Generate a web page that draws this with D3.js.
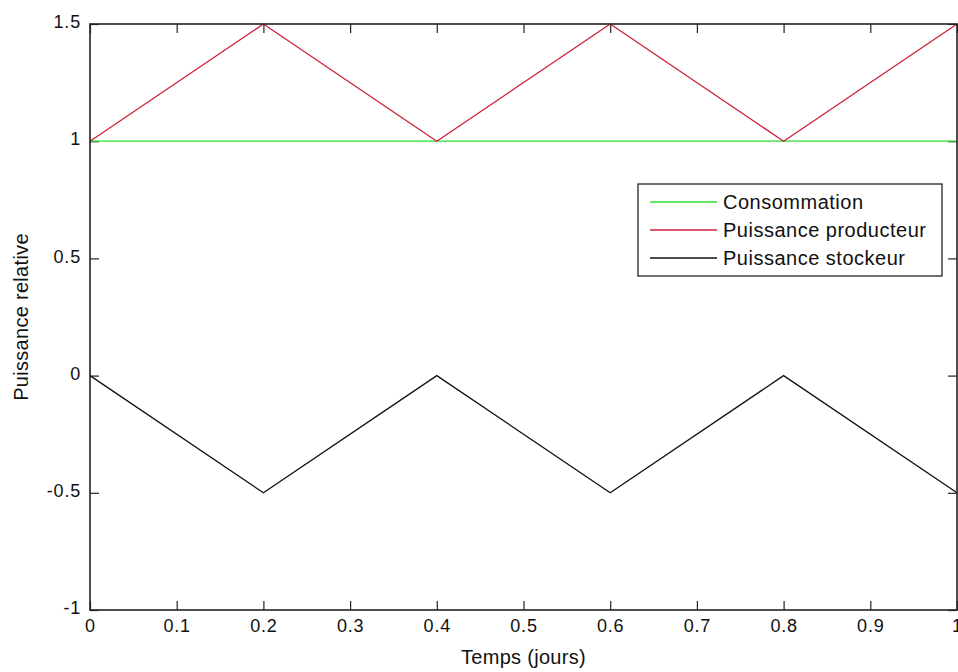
<!DOCTYPE html>
<html>
<head>
<meta charset="utf-8">
<script src="https://cdn.jsdelivr.net/npm/d3@7"></script>
<style>
  body { margin: 0; background: #fff; }
  text { font-family: "Liberation Sans", Arial, sans-serif; fill: #111; }
</style>
</head>
<body>
<svg id="chart" width="958" height="672"></svg>
<script>
// DATA
const temps = [0, 0.2, 0.4, 0.6, 0.8, 1];
const consommation = [1, 1, 1, 1, 1, 1];
const producteur = [1, 1.5, 1, 1.5, 1, 1.5];
const stockeur = [0, -0.5, 0, -0.5, 0, -0.5];

const xTicks = [0, 0.1, 0.2, 0.3, 0.4, 0.5, 0.6, 0.7, 0.8, 0.9, 1];
const yTicks = [-1, -0.5, 0, 0.5, 1, 1.5];

const series = [
  { name: "Consommation", values: consommation, color: "#2fdc2f" },
  { name: "Puissance producteur", values: producteur, color: "#cc2238" },
  { name: "Puissance stockeur", values: stockeur, color: "#111111" },
];

// CANVAS SETUP
const canvas = d3.select("#chart");
const margin = { top: 24, right: 1, bottom: 62, left: 90 },
  width = +canvas.attr("width") - margin.left - margin.right,
  height = +canvas.attr("height") - margin.top - margin.bottom;

const g = canvas
  .append("g")
  .attr("transform", `translate(${margin.left},${margin.top})`);

const x = d3.scaleLinear().domain([0, 1]).range([0, width]);
const y = d3.scaleLinear().domain([-1, 1.5]).range([height, 0]);

const fmt = (d) => String(d);
const tickLen = 9;

// axes (ticks inside, on all four sides)
const axisStyle = (sel) => {
  sel.select(".domain").remove();
  sel.selectAll(".tick line").attr("stroke", "#222").attr("stroke-width", 1.2);
  sel
    .selectAll(".tick text")
    .style("font-size", "18px")
    .style("letter-spacing", "0.8px")
    .attr("fill", "#111");
};

g.append("g")
  .attr("transform", `translate(0,${height})`)
  .call(d3.axisBottom(x).tickValues(xTicks).tickFormat(fmt).tickSizeInner(-tickLen).tickSizeOuter(0).tickPadding(9))
  .call(axisStyle);

g.append("g")
  .call(d3.axisTop(x).tickValues(xTicks).tickFormat("").tickSizeInner(-tickLen).tickSizeOuter(0))
  .call(axisStyle);

g.append("g")
  .call(d3.axisLeft(y).tickValues(yTicks).tickFormat(fmt).tickSizeInner(-tickLen).tickSizeOuter(0).tickPadding(9))
  .call(axisStyle)
  .selectAll(".tick text")
  .attr("dy", "0.2em");

g.append("g")
  .attr("transform", `translate(${width},0)`)
  .call(d3.axisRight(y).tickValues(yTicks).tickFormat("").tickSizeInner(-tickLen).tickSizeOuter(0))
  .call(axisStyle);

// LINES
const line = d3
  .line()
  .x((d, i) => x(temps[i]))
  .y((d) => y(d));

g.selectAll(".serie")
  .data(series)
  .join("path")
  .attr("class", "serie")
  .attr("fill", "none")
  .attr("stroke", (d) => d.color)
  .attr("stroke-width", 1.3)
  .attr("d", (d) => line(d.values));

// box
g.append("rect")
  .attr("width", width)
  .attr("height", height)
  .attr("fill", "none")
  .attr("stroke", "#222")
  .attr("stroke-width", 1.6);

// labels
canvas
  .append("text")
  .attr("x", margin.left + width / 2)
  .attr("y", 664)
  .attr("text-anchor", "middle")
  .style("font-size", "20px")
  .style("letter-spacing", "0.3px")
  .text("Temps (jours)");

canvas
  .append("text")
  .attr("transform", `translate(28,${margin.top + height / 2}) rotate(-90)`)
  .attr("text-anchor", "middle")
  .style("font-size", "20px")
  .style("letter-spacing", "0.3px")
  .text("Puissance relative");

// LEGEND
const legend = canvas.append("g").attr("transform", "translate(638,184)");

legend
  .append("rect")
  .attr("width", 304)
  .attr("height", 92)
  .attr("fill", "#fff")
  .attr("stroke", "#111")
  .attr("stroke-width", 1.2);

const item = legend
  .selectAll(".item")
  .data(series)
  .join("g")
  .attr("class", "item")
  .attr("transform", (d, i) => `translate(0,${18 + i * 28})`);

item
  .append("line")
  .attr("x1", 12)
  .attr("x2", 79)
  .attr("stroke", (d) => d.color)
  .attr("stroke-width", 1.3);

item
  .append("text")
  .attr("x", 85)
  .attr("dy", "0.36em")
  .style("font-size", "20px")
  .style("letter-spacing", "0.5px")
  .text((d) => d.name);
</script>
</body>
</html>
